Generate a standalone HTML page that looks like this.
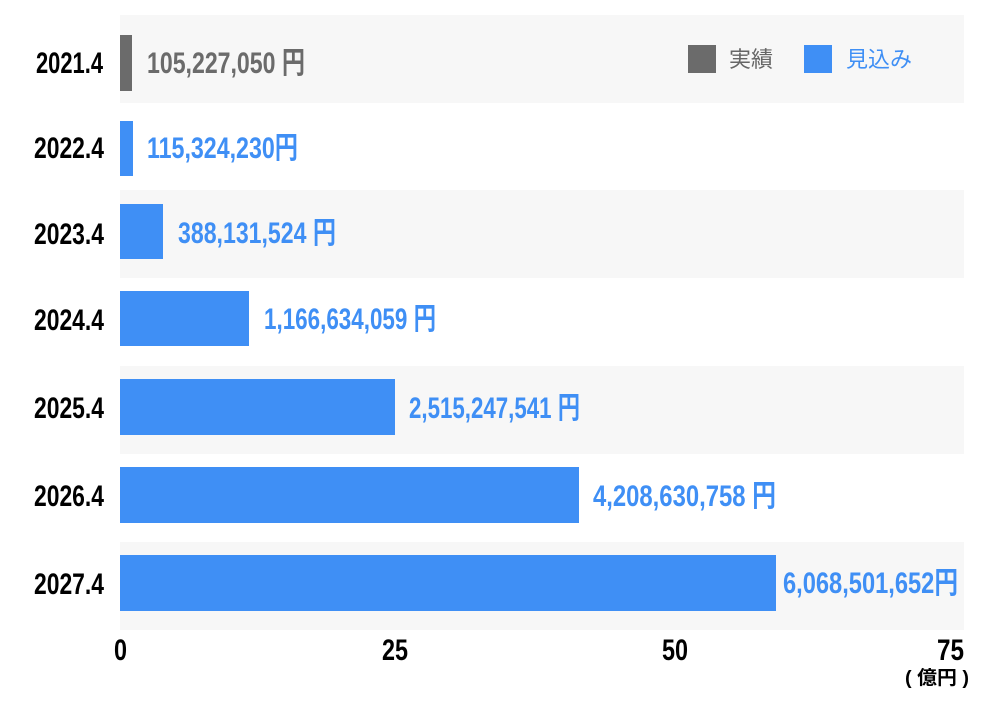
<!DOCTYPE html>
<html><head><meta charset="utf-8"><style>html,body{margin:0;padding:0;background:#fff}svg{display:block}</style></head><body>
<svg width="1000" height="707" xmlns="http://www.w3.org/2000/svg" font-family="'Liberation Sans','Noto Sans CJK JP',sans-serif">
<rect x="120" y="15" width="844" height="88" fill="#f7f7f7"/>
<rect x="120" y="190" width="844" height="88" fill="#f7f7f7"/>
<rect x="120" y="366" width="844" height="88" fill="#f7f7f7"/>
<rect x="120" y="542" width="844" height="88" fill="#f7f7f7"/>
<rect x="120" y="35" width="12" height="56" fill="#6b6b6b"/>
<rect x="120" y="121" width="13" height="55" fill="#3f8ff5"/>
<rect x="120" y="204" width="43" height="55" fill="#3f8ff5"/>
<rect x="120" y="291" width="129" height="55" fill="#3f8ff5"/>
<rect x="120" y="379" width="275" height="56" fill="#3f8ff5"/>
<rect x="120" y="467" width="459" height="56" fill="#3f8ff5"/>
<rect x="120" y="555" width="656" height="56" fill="#3f8ff5"/>
<g font-weight="bold" font-size="30" fill="#000">
<text x="36" y="73" textLength="67" lengthAdjust="spacingAndGlyphs">2021.4</text>
<text x="34" y="158" textLength="70" lengthAdjust="spacingAndGlyphs">2022.4</text>
<text x="34" y="244" textLength="70" lengthAdjust="spacingAndGlyphs">2023.4</text>
<text x="34" y="330" textLength="70" lengthAdjust="spacingAndGlyphs">2024.4</text>
<text x="34" y="418" textLength="70" lengthAdjust="spacingAndGlyphs">2025.4</text>
<text x="34" y="506" textLength="70" lengthAdjust="spacingAndGlyphs">2026.4</text>
<text x="34" y="594" textLength="70" lengthAdjust="spacingAndGlyphs">2027.4</text>
<text x="114" y="660" textLength="13" lengthAdjust="spacingAndGlyphs">0</text>
<text x="382" y="660" textLength="26" lengthAdjust="spacingAndGlyphs">25</text>
<text x="662" y="660" textLength="26" lengthAdjust="spacingAndGlyphs">50</text>
<text x="937" y="660" textLength="27" lengthAdjust="spacingAndGlyphs">75</text>
</g>
<text x="905" y="684" font-size="19" font-weight="bold" fill="#000" textLength="64" lengthAdjust="spacingAndGlyphs">( 億円 )</text>
<g font-weight="bold" font-size="30">
<text x="147" y="73" fill="#6b6b6b" textLength="158" lengthAdjust="spacingAndGlyphs">105,227,050 円</text>
<text x="147" y="158" fill="#3f8ff5" textLength="151" lengthAdjust="spacingAndGlyphs">115,324,230円</text>
<text x="178" y="243" fill="#3f8ff5" textLength="158" lengthAdjust="spacingAndGlyphs">388,131,524 円</text>
<text x="264" y="329" fill="#3f8ff5" textLength="172" lengthAdjust="spacingAndGlyphs">1,166,634,059 円</text>
<text x="409" y="418" fill="#3f8ff5" textLength="171" lengthAdjust="spacingAndGlyphs">2,515,247,541 円</text>
<text x="593" y="506" fill="#3f8ff5" textLength="183" lengthAdjust="spacingAndGlyphs">4,208,630,758 円</text>
<text x="783" y="593" fill="#3f8ff5" textLength="175" lengthAdjust="spacingAndGlyphs">6,068,501,652円</text>
</g>
<rect x="688" y="45" width="28" height="28" fill="#6b6b6b"/>
<text x="729" y="67" font-size="22" fill="#666">実績</text>
<rect x="804" y="45" width="28" height="28" fill="#3f8ff5"/>
<text x="846" y="67" font-size="22" fill="#3f8ff5">見込み</text>
</svg>
</body></html>
